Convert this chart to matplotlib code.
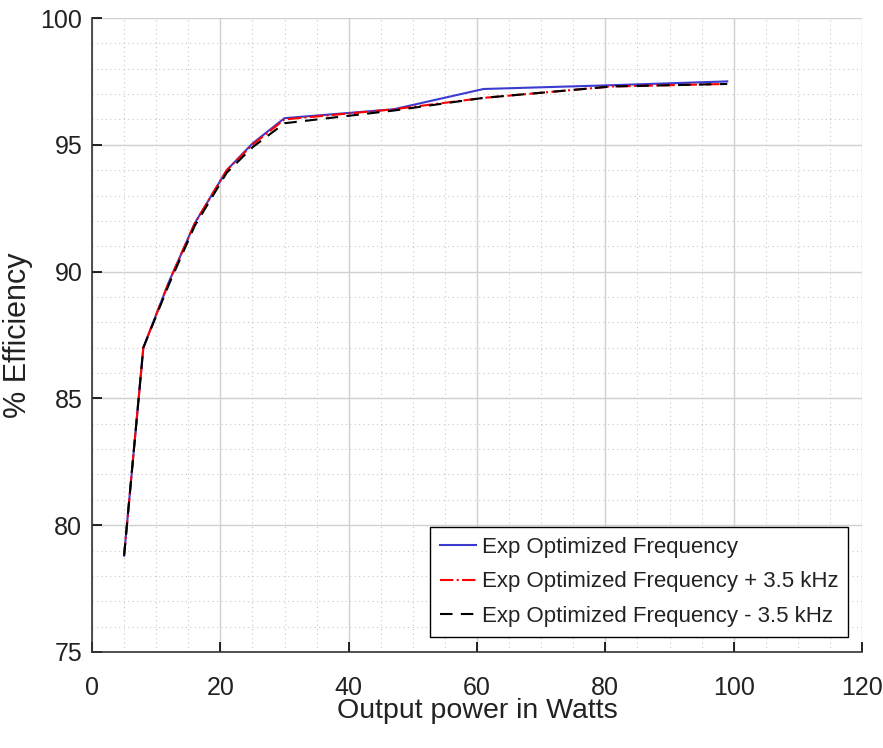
import matplotlib.pyplot as plt
from matplotlib.ticker import MultipleLocator

# Output power (W) and measured efficiency (%)
power = [5, 8, 12, 16, 21, 25, 30, 47, 61, 81, 99]
eff_opt = [78.8, 87.0, 89.6, 91.9, 94.0, 95.05, 96.05, 96.4, 97.2, 97.35, 97.5]
eff_plus = [78.8, 87.0, 89.6, 91.9, 94.0, 95.0, 96.0, 96.4, 96.85, 97.3, 97.4]
eff_minus = [78.8, 87.0, 89.5, 91.8, 93.9, 94.9, 95.85, 96.35, 96.85, 97.3, 97.4]

labels = ["Exp Optimized Frequency",
          "Exp Optimized Frequency + 3.5 kHz",
          "Exp Optimized Frequency - 3.5 kHz"]

plt.rcParams["font.family"] = ["Liberation Sans", "DejaVu Sans"]

fig = plt.figure(figsize=(8.83, 7.48), dpi=100)
ax = fig.add_axes([92 / 883, 1 - 652 / 748, 770 / 883, 634 / 748])

ax.plot(power, eff_opt, color="#3b3bd0", lw=1.5, label=labels[0])
ax.plot(power, eff_plus, color="red", lw=1.5, ls="-.", label=labels[1])
ax.plot(power, eff_minus, color="black", lw=1.5, ls="--", dashes=(6, 4), label=labels[2])

ax.set_xlim(0, 120)
ax.set_ylim(75, 100)
ax.xaxis.set_major_locator(MultipleLocator(20))
ax.xaxis.set_minor_locator(MultipleLocator(5))
ax.yaxis.set_major_locator(MultipleLocator(5))
ax.yaxis.set_minor_locator(MultipleLocator(1))

ax.grid(which="major", color="#d0d0d0", lw=1.0)
ax.grid(which="minor", color="#c8c8c8", lw=0.8, ls=(0, (1, 3)))
ax.set_axisbelow(True)

for s in ["top", "right"]:
    ax.spines[s].set_visible(False)
for s in ["left", "bottom"]:
    ax.spines[s].set_color("#333333")
    ax.spines[s].set_linewidth(1.2)

ax.tick_params(which="major", direction="in", length=7, width=1.2, labelsize=18,
               labelcolor="#222222")
ax.tick_params(axis="x", pad=17)
ax.tick_params(axis="y", pad=7)
ax.tick_params(which="minor", length=0)

ax.set_xlabel("Output power in Watts", fontsize=20.5, color="#222222", labelpad=-1)
ax.set_ylabel("% Efficiency", fontsize=22, color="#222222", labelpad=5)

leg = ax.legend(loc="lower right", bbox_to_anchor=(0.982, 0.024), fontsize=16,
                fancybox=False, framealpha=1, edgecolor="black",
                handlelength=1.6, handletextpad=0.25, borderpad=0.45,
                labelspacing=0.6, borderaxespad=0)
leg.get_frame().set_linewidth(1.0)
for t in leg.get_texts():
    t.set_color("#222222")

fig.savefig("out.png", dpi=100)
